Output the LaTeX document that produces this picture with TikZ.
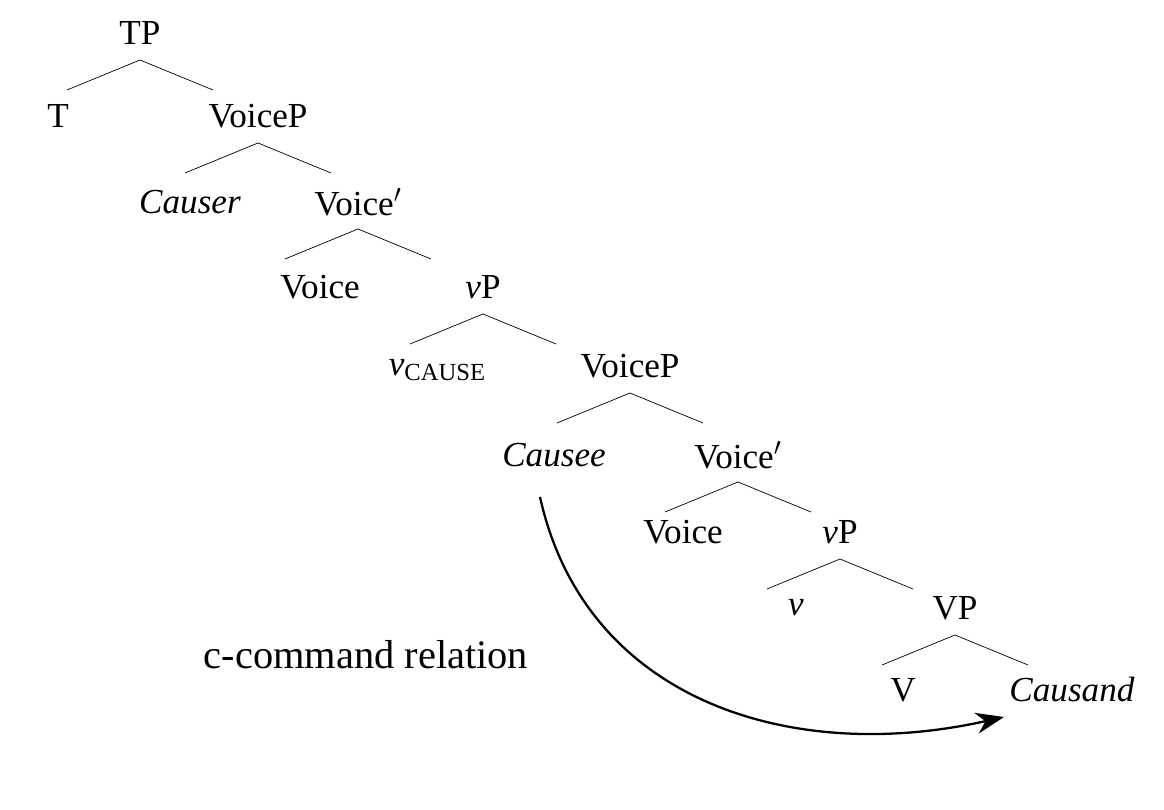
\documentclass[tikz,border=0pt]{standalone}
\usepackage{fontspec}
\setmainfont{Liberation Serif}
\usetikzlibrary{calc,arrows.meta}
\tikzset{
  cat/.style={font=\fontsize{20}{24}\selectfont, inner sep=0pt},
}
\newcommand{\branch}[1]{\draw[thin] ($(#1)+(-73,57)$) -- ($(#1)+(0,27)$) -- ($(#1)+(73,57)$);}
\begin{document}
\begin{tikzpicture}[x=0.02cm,y=-0.02cm]
    \useasboundingbox (0,0) rectangle (1164,810);
    % tree
    \node[cat] (tp) at (140,33) {TP};
    \node[cat] (t) at (58,116) {T};
    \node[cat] (voicep) at (258,116) {VoiceP};
    \node[cat] (causer) at (190,202) {\textit{Causer}};
    \node[cat] (voicebar) at (358,202) {Voice$'$};
    \node[cat] (voice) at (320,287) {Voice};
    \node[cat] (vp) at (483,287) {\textit{v}P};
    \node[cat] (vcause) at (437,370) {\textit{v}{\fontsize{14}{16}\selectfont\raisebox{-0.4ex}{CAUSE}}};
    \node[cat] (voicepb) at (630,366) {VoiceP};
    \node[cat] (causee) at (554,455) {\textit{Causee}};
    \node[cat] (voicebarb) at (738,455) {Voice$'$};
    \node[cat] (voiceb) at (683,532) {Voice};
    \node[cat] (vpb) at (840,532) {\textit{v}P};
    \node[cat] (v) at (796,608) {\textit{v}};
    \node[cat] (vbigp) at (955,608) {VP};
    \node[cat] (vbig) at (903,690) {V};
    \node[cat] (causand) at (1072,690) {\textit{Causand}};
    \node[cat, font=\fontsize{23}{27}\selectfont] (rel) at (366,655) {c-command relation};
    % branches
    \branch{tp} \branch{voicep} \branch{voicebar} \branch{vp}
    \branch{voicepb} \branch{voicebarb} \branch{vpb} \branch{vbigp}
    % arrow
    \coordinate (from) at (540,497);
    \coordinate (to) at (1004,717);
    \draw[-{Stealth[length=16pt,width=12pt]}, line width=1.3pt] (from) .. controls (585,700) and (790,765) .. (to);
\end{tikzpicture}
\end{document}
